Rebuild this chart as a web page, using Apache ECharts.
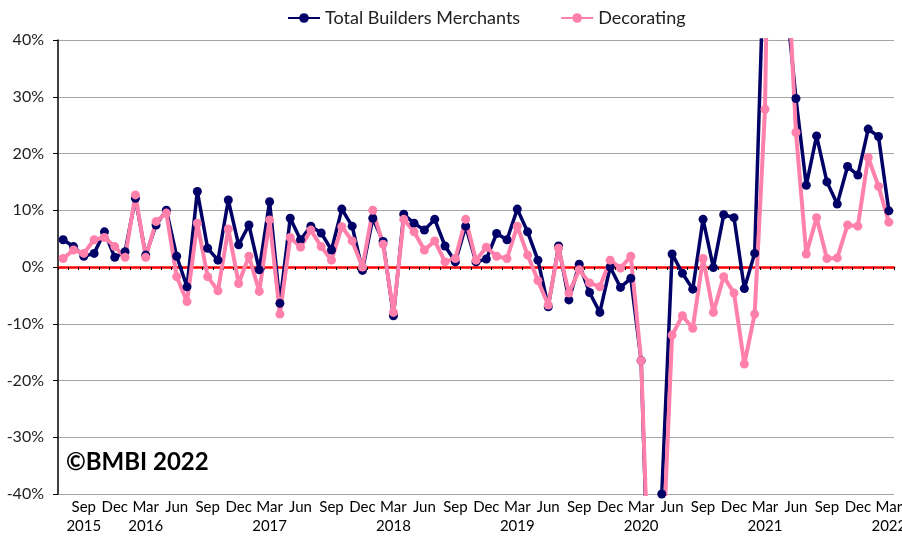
<!DOCTYPE html>
<html>
<head>
<meta charset="utf-8">
<script src="https://cdn.jsdelivr.net/npm/echarts@6/dist/echarts.min.js"></script>
<style>
  html, body { margin: 0; padding: 0; background: #fff; }
  #chart { width: 902px; height: 536px; }
</style>
</head>
<body>
<div id="chart"></div>
<script>
// months Jul 2015 .. Mar 2022
const months = [
  'Jul 2015', 'Aug 2015', 'Sep 2015', 'Oct 2015', 'Nov 2015', 'Dec 2015',
  'Jan 2016', 'Feb 2016', 'Mar 2016', 'Apr 2016', 'May 2016', 'Jun 2016', 'Jul 2016', 'Aug 2016', 'Sep 2016', 'Oct 2016', 'Nov 2016', 'Dec 2016',
  'Jan 2017', 'Feb 2017', 'Mar 2017', 'Apr 2017', 'May 2017', 'Jun 2017', 'Jul 2017', 'Aug 2017', 'Sep 2017', 'Oct 2017', 'Nov 2017', 'Dec 2017',
  'Jan 2018', 'Feb 2018', 'Mar 2018', 'Apr 2018', 'May 2018', 'Jun 2018', 'Jul 2018', 'Aug 2018', 'Sep 2018', 'Oct 2018', 'Nov 2018', 'Dec 2018',
  'Jan 2019', 'Feb 2019', 'Mar 2019', 'Apr 2019', 'May 2019', 'Jun 2019', 'Jul 2019', 'Aug 2019', 'Sep 2019', 'Oct 2019', 'Nov 2019', 'Dec 2019',
  'Jan 2020', 'Feb 2020', 'Mar 2020', 'Apr 2020', 'May 2020', 'Jun 2020', 'Jul 2020', 'Aug 2020', 'Sep 2020', 'Oct 2020', 'Nov 2020', 'Dec 2020',
  'Jan 2021', 'Feb 2021', 'Mar 2021', 'Apr 2021', 'May 2021', 'Jun 2021', 'Jul 2021', 'Aug 2021', 'Sep 2021', 'Oct 2021', 'Nov 2021', 'Dec 2021',
  'Jan 2022', 'Feb 2022', 'Mar 2022'
];

// labels shown every third month, starting at Sep 2015
const tickLabels = [
  'Sep\n2015', 'Dec', 'Mar\n2016', 'Jun', 'Sep', 'Dec', 'Mar\n2017', 'Jun', 'Sep', 'Dec',
  'Mar\n2018', 'Jun', 'Sep', 'Dec', 'Mar\n2019', 'Jun', 'Sep', 'Dec', 'Mar\n2020', 'Jun',
  'Sep', 'Dec', 'Mar\n2021', 'Jun', 'Sep', 'Dec', 'Mar\n2022'
];

// year-on-year change, %
const totalMerchants = [
  4.8, 3.6, 1.9, 2.4, 6.2, 1.7,
  2.7, 12.1, 2.1, 7.4, 10.0, 1.9, -3.5, 13.3, 3.3, 1.2, 11.8, 3.9,
  7.4, -0.5, 11.5, -6.4, 8.6, 4.8, 7.2, 6.0, 3.0, 10.2, 7.2, -0.6,
  8.6, 4.5, -8.6, 9.3, 7.7, 6.5, 8.4, 3.7, 0.9, 7.2, 0.9, 1.4,
  5.9, 4.8, 10.2, 6.2, 1.2, -7.0, 3.7, -5.8, 0.5, -4.5, -8.0, 0.0,
  -3.6, -2.0, -16.5, -75.0, -40.0, 2.3, -1.1, -3.9, 8.4, -0.1, 9.2, 8.7,
  -3.8, 2.4, 60.0, 150.0, 48.0, 29.7, 14.4, 23.1, 15.0, 11.1, 17.7, 16.2,
  24.3, 23.0, 9.9
];

const decorating = [
  1.5, 3.0, 2.4, 4.8, 5.2, 3.6,
  1.7, 12.7, 1.7, 8.0, 9.5, -1.7, -6.1, 7.7, -1.7, -4.2, 6.7, -2.9,
  1.9, -4.3, 8.3, -8.3, 5.2, 3.5, 6.5, 3.6, 1.2, 7.1, 4.6, 0.0,
  10.0, 4.0, -8.0, 8.4, 6.2, 3.0, 4.6, 0.9, 1.5, 8.4, 1.2, 3.5,
  1.9, 1.5, 7.2, 2.1, -2.4, -6.7, 3.3, -4.6, -0.5, -2.8, -3.5, 1.2,
  -0.2, 1.9, -16.5, -70.0, -55.0, -12.0, -8.6, -10.8, 1.5, -8.0, -1.7, -4.6,
  -17.1, -8.3, 27.8, 140.0, 60.0, 23.7, 2.3, 8.7, 1.5, 1.6, 7.4, 7.2,
  19.3, 14.2, 7.9
];

const NAVY = '#000066';
const PINK = '#ff80aa';
const FONT = 'Lato, "Open Sans", sans-serif';

const chart = echarts.init(document.getElementById('chart'));

const option = {
  animation: false,
  backgroundColor: '#fff',
  textStyle: { fontFamily: FONT },
  legend: {
    left: 282,
    top: 4,
    itemGap: 40,
    itemWidth: 32,
    itemHeight: 12,
    textStyle: { fontSize: 18, color: '#222', fontFamily: FONT },
    data: ['Total Builders Merchants', 'Decorating']
  },
  grid: {
    left: 58,
    right: 8,
    top: 40,
    bottom: 42,
    containLabel: false,
    outerBoundsMode: 'none'
  },
  xAxis: [
    {
      // category axis crossing at zero, drawn as the red line
      type: 'category',
      data: months,
      boundaryGap: true,
      position: 'bottom',
      axisLine: { onZero: true, lineStyle: { color: '#ff0000', width: 2.5 } },
      axisTick: { show: true, interval: 0, length: 3, lineStyle: { color: '#000', width: 1 } },
      axisLabel: { show: false },
      splitLine: { show: false }
    },
    {
      // labels at the bottom of the plot
      type: 'category',
      data: months,
      boundaryGap: true,
      position: 'bottom',
      axisLine: { show: false, onZero: false },
      axisTick: { show: false },
      splitLine: { show: false },
      axisLabel: {
        show: true,
        interval: (index) => index % 3 === 2,
        formatter: (value, index) => tickLabels[Math.round((index - 2) / 3)] || '',
        color: '#000',
        fontSize: 15,
        lineHeight: 19,
        margin: 4,
        fontFamily: FONT,
        verticalAlign: 'top'
      }
    }
  ],
  yAxis: {
    type: 'value',
    min: -40,
    max: 40,
    interval: 10,
    axisLine: { show: true, lineStyle: { color: '#000', width: 1.5 } },
    axisTick: { show: true, length: 5, inside: false, lineStyle: { color: '#000' } },
    axisLabel: {
      formatter: '{value}%',
      color: '#222',
      fontSize: 16,
      margin: 14,
      fontFamily: FONT
    },
    splitLine: { show: true, lineStyle: { color: '#a6a6a6', width: 1.2 } }
  },
  series: [
    {
      name: 'Total Builders Merchants',
      type: 'line',
      xAxisIndex: 0,
      data: totalMerchants,
      symbol: 'circle',
      symbolSize: 9,
      showAllSymbol: true,
      clip: true,
      lineStyle: { color: NAVY, width: 3.5 },
      itemStyle: { color: NAVY }
    },
    {
      name: 'Decorating',
      type: 'line',
      xAxisIndex: 0,
      data: decorating,
      symbol: 'circle',
      symbolSize: 9,
      showAllSymbol: true,
      clip: true,
      lineStyle: { color: PINK, width: 4 },
      itemStyle: { color: PINK }
    }
  ],
  graphic: [
    {
      type: 'text',
      left: 66,
      top: 450,
      style: {
        text: '©BMBI 2022',
        font: 'bold 24px ' + FONT,
        fill: '#000'
      }
    }
  ]
};

chart.setOption(option);
</script>
</body>
</html>
